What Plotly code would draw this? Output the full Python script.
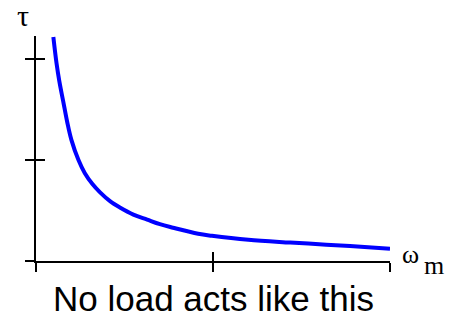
import plotly.graph_objects as go

# Values (axis units: x ticks at 0, 0.5, 1; y ticks at 0, 1, 2)
omega_m = [0.049, 0.058, 0.066, 0.077, 0.088, 0.100, 0.120, 0.138, 0.160, 0.181, 0.210, 0.237, 0.275, 0.314, 0.350, 0.387, 0.458, 0.497, 0.600, 0.718, 0.800, 0.887, 1.0]
torque  = [2.22, 1.96, 1.78, 1.58, 1.38, 1.20, 1.00, 0.87, 0.76, 0.68, 0.59, 0.53, 0.46, 0.41, 0.365, 0.33, 0.27, 0.25, 0.21, 0.183, 0.166, 0.148, 0.122]
x_ticks = [0, 0.5, 1]
y_ticks = [0, 1, 2]
caption = "No load acts like this"

fig = go.Figure()
fig.add_trace(go.Scatter(x=omega_m, y=torque, mode="lines",
                         line=dict(color="#0000FF", width=4, shape="spline", smoothing=1.0),
                         hoverinfo="skip", showlegend=False, cliponaxis=True))
# invisible trace for overlay axes (cross ticks)
fig.add_trace(go.Scatter(x=[0], y=[0], xaxis="x2", yaxis="y2", mode="markers",
                         marker=dict(opacity=0), showlegend=False, hoverinfo="skip"))

axis_common = dict(showgrid=False, zeroline=False, showticklabels=False, tickmode="array",
                   tickcolor="black", tickwidth=2, ticklen=9, fixedrange=True)
fig.update_layout(
    width=458, height=313,
    margin=dict(l=36, r=68, t=36, b=52, autoexpand=False),
    paper_bgcolor="white", plot_bgcolor="white",
    xaxis=dict(range=[0, 1], tickvals=x_ticks, ticks="outside", showline=True,
               linecolor="black", linewidth=2, **axis_common),
    yaxis=dict(range=[0, 2.23], tickvals=y_ticks, ticks="outside", showline=True,
               linecolor="black", linewidth=2, **axis_common),
    xaxis2=dict(range=[0, 1], tickvals=x_ticks, ticks="inside", overlaying="x", anchor="y2",
                side="bottom", showline=False, **axis_common),
    yaxis2=dict(range=[0, 2.23], tickvals=y_ticks, ticks="inside", overlaying="y", anchor="x2",
                side="left", showline=False, **axis_common),
)

serif = dict(family="Liberation Serif, Times New Roman, serif", size=26, color="black")
fig.add_annotation(text="τ", xref="paper", yref="paper", x=-0.038, y=1.093,
                   xanchor="center", yanchor="middle", showarrow=False,
                   font=dict(family=serif["family"], size=30, color="black"))
fig.add_annotation(text="ω", xref="paper", yref="paper", x=1.058, y=0.027,
                   xanchor="center", yanchor="middle", showarrow=False, font=serif)
fig.add_annotation(text="m", xref="paper", yref="paper", x=1.1243, y=-0.022,
                   xanchor="center", yanchor="middle", showarrow=False, font=serif)
fig.add_annotation(text=caption, xref="paper", yref="paper", x=0.5, y=-0.165,
                   xanchor="center", yanchor="middle", showarrow=False,
                   font=dict(family="Liberation Sans, Arial, sans-serif", size=35, color="black"))

fig.write_html("out.html", config=dict(displayModeBar=False),
               post_script="document.body.style.margin='0';document.body.style.overflow='hidden';")
